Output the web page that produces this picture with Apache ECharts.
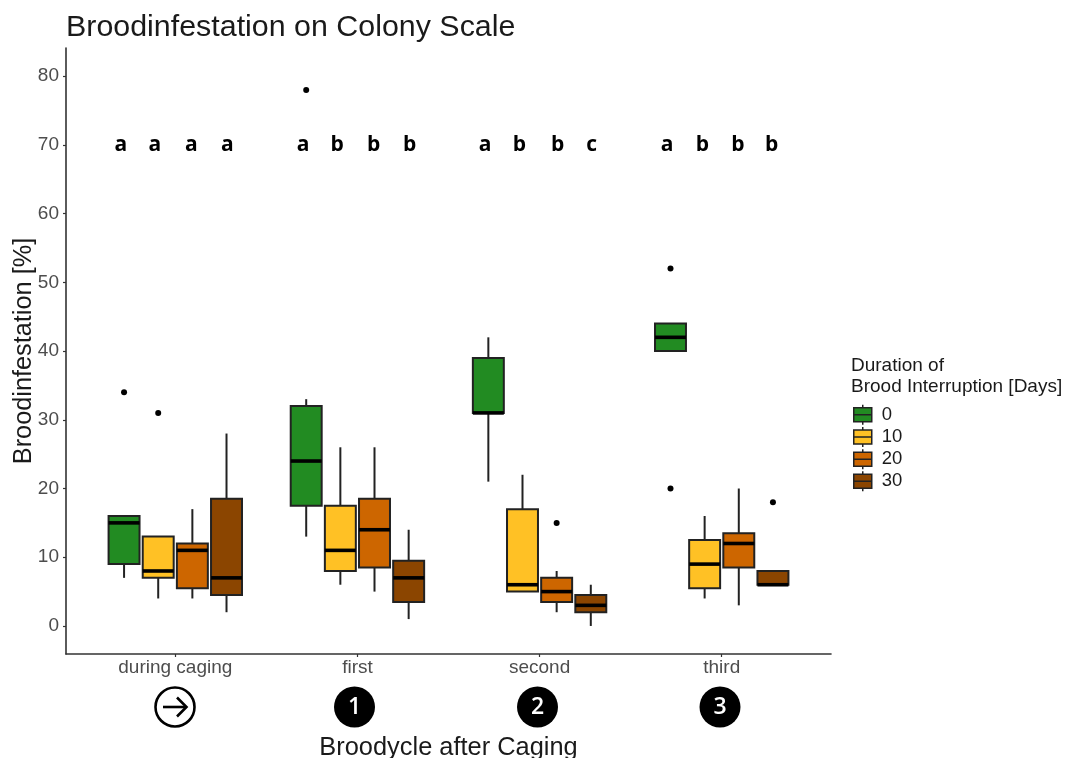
<!DOCTYPE html>
<html><head><meta charset="utf-8">
<style>html,body{margin:0;padding:0;background:#fff}#c{width:1065px;height:758px}</style>
<script src="https://cdn.jsdelivr.net/npm/echarts@6/dist/echarts.min.js"></script>
</head><body><div id="c"></div>
<script>
const categories = ['during caging', 'first', 'second', 'third'];
const durations = ['0', '10', '20', '30'];
const colors = ['#228B22', '#FFC125', '#CD6600', '#8B4500'];
const yTicks = [0, 10, 20, 30, 40, 50, 60, 70, 80];
const catPositions = [1, 2, 3, 4];
// [low whisker, Q1, median, Q3, high whisker] per category
const stats0  = [[7, 9, 15, 16, 16], [13, 17.5, 24, 32, 33], [21, 31, 31, 39, 42], [40, 40, 42, 44, 44]];
const stats10 = [[4, 7, 8, 13, 13], [6, 8, 11, 17.5, 26], [5, 5, 6, 17, 22], [4, 5.5, 9, 12.5, 16]];
const stats20 = [[4, 5.5, 11, 12, 17], [5, 8.5, 14, 18.5, 26], [2, 3.5, 5, 7, 8], [3, 8.5, 12, 13.5, 20]];
const stats30 = [[2, 4.5, 7, 18.5, 28], [1, 3.5, 7, 9.5, 14], [0, 2, 3, 4.5, 6], [6, 6, 6, 8, 8]];
const allStats = [stats0, stats10, stats20, stats30];
// [category index, group index, value]
const outliers = [[0, 0, 34], [0, 1, 31], [1, 0, 78], [2, 2, 15], [3, 0, 52], [3, 0, 20], [3, 3, 18]];
const letterValue = 70;
const letters = [['a', 'a', 'a', 'a'], ['a', 'b', 'b', 'b'], ['a', 'b', 'b', 'c'], ['a', 'b', 'b', 'b']];
const letterNudges = [[-0.017, -0.019, -0.005, 0.005], [-0.017, -0.017, -0.005, 0.005], [-0.018, -0.017, 0.005, 0.005], [-0.018, -0.013, -0.005, -0.007]];

const dodge = 0.1875;
const boxW = 0.17;
const offset = g => (g - 1.5) * dodge;

function renderBox(params, api) {
  const x = api.value(0), low = api.value(1), q1 = api.value(2), med = api.value(3), q3 = api.value(4), high = api.value(5);
  const cx = api.coord([x, 0])[0];
  const halfW = (api.size([boxW, 0])[0]) / 2;
  const Y = v => api.coord([x, v])[1];
  const lineStyle = { stroke: '#222', lineWidth: 2, fill: null };
  return { type: 'group', children: [
    { type: 'line', shape: { x1: cx, y1: Y(high), x2: cx, y2: Y(q3) }, style: lineStyle },
    { type: 'line', shape: { x1: cx, y1: Y(q1), x2: cx, y2: Y(low) }, style: lineStyle },
    { type: 'rect', shape: { x: cx - halfW, y: Y(q3), width: 2 * halfW, height: Y(q1) - Y(q3) },
      style: { fill: api.visual('color'), stroke: '#222', lineWidth: 2 } },
    { type: 'line', shape: { x1: cx - halfW, y1: Y(med), x2: cx + halfW, y2: Y(med) }, style: { stroke: '#000', lineWidth: 3.6 } }
  ]};
}

const boxSeries = durations.map((d, g) => ({
  name: d, type: 'custom', renderItem: renderBox, clip: false,
  itemStyle: { color: colors[g] },
  encode: { x: 0, y: [1, 2, 3, 4, 5] },
  data: allStats[g].map((s, c) => [catPositions[c] + offset(g), ...s])
}));

const outlierSeries = {
  name: 'outliers', type: 'scatter', symbol: 'circle', symbolSize: 6,
  itemStyle: { color: '#000', opacity: 1 },
  data: outliers.map(o => [catPositions[o[0]] + offset(o[1]), o[2]])
};

const letterData = [];
letters.forEach((row, c) => row.forEach((t, g) => letterData.push([catPositions[c] + offset(g) + letterNudges[c][g], letterValue, t])));
const letterSeries = {
  name: 'letters', type: 'custom', clip: false, data: letterData,
  encode: { x: 0, y: 1 },
  renderItem: (params, api) => {
    const p = api.coord([api.value(0), api.value(1)]);
    return { type: 'text', style: { x: p[0], y: p[1], text: letterData[params.dataIndex][2], fill: '#000',
      font: 'bold 21px "Open Sans", "Noto Sans", sans-serif', textAlign: 'center', textVerticalAlign: 'middle' } };
  }
};

const font = '"Liberation Sans", Arial, sans-serif';
function badge(cx, label) {
  return { type: 'group', x: cx, y: 707, children: [
    { type: 'circle', shape: { cx: 0, cy: 0, r: 20.5 }, style: { fill: '#000' } },
    { type: 'text', style: { x: 0, y: 0, text: label, fill: '#fff', font: '600 23px "Open Sans", sans-serif', textAlign: 'center', textVerticalAlign: 'middle' } }
  ]};
}
const arrowBadge = { type: 'group', x: 175, y: 707, children: [
  { type: 'circle', shape: { cx: 0, cy: 0, r: 19.5 }, style: { fill: '#fff', stroke: '#000', lineWidth: 2.6 } },
  { type: 'polyline', shape: { points: [[-12, 0], [11, 0]] }, style: { stroke: '#000', lineWidth: 2.6, fill: null } },
  { type: 'polyline', shape: { points: [[2, -9.5], [11.5, 0], [2, 9.5]] }, style: { stroke: '#000', lineWidth: 2.6, fill: null } }
]};

const chart = echarts.init(document.getElementById('c'), null, { renderer: 'canvas' });
chart.setOption({
  animation: false,
  backgroundColor: '#fff',
  title: { text: 'Broodinfestation on Colony Scale', left: 66, top: 13, padding: 0,
    textStyle: { fontFamily: font, fontSize: 30.4, fontWeight: 'normal', color: '#1a1a1a' } },
  grid: { left: 66, right: 234, top: 48, bottom: 104, outerBoundsMode: 'none' },
  xAxis: {
    type: 'value', min: 0.4, max: 4.6, splitLine: { show: false },
    name: 'Broodycle after Caging', nameLocation: 'middle', nameGap: 81,
    nameTextStyle: { fontFamily: font, fontSize: 25.4, color: '#1a1a1a' },
    axisLine: { show: true, onZero: false, lineStyle: { color: '#333', width: 1.6 } },
    axisTick: { show: true, length: 3, customValues: catPositions, lineStyle: { color: '#333', width: 1.2 } },
    axisLabel: { show: true, customValues: catPositions, margin: 4, fontFamily: font, fontSize: 19, color: '#4d4d4d',
      formatter: v => categories[catPositions.indexOf(v)] || '' }
  },
  yAxis: {
    type: 'value', min: -4.08, max: 84.1, splitLine: { show: false },
    name: 'Broodinfestation [%]', nameLocation: 'middle', nameGap: 29, nameMoveOverlap: false,
    nameTextStyle: { fontFamily: font, fontSize: 25.3, color: '#1a1a1a' },
    axisLine: { show: true, onZero: false, lineStyle: { color: '#333', width: 1.6 } },
    axisTick: { show: true, length: 3, customValues: yTicks, lineStyle: { color: '#333', width: 1.2 } },
    axisLabel: { show: true, customValues: yTicks, margin: 7, fontFamily: font, fontSize: 19, color: '#4d4d4d' }
  },
  legend: {
    data: durations, orient: 'vertical', left: 853, top: 404, padding: 0, itemGap: 0.7,
    itemWidth: 18, itemHeight: 20, selectedMode: false,
    icon: 'path://M9 0V3M0 3H18V17H0ZM0 10H18M9 17V20',
    itemStyle: { borderColor: '#222', borderWidth: 1.5 },
    textStyle: { fontFamily: font, fontSize: 18.5, color: '#1a1a1a', padding: [0, 0, 0, 5] }
  },
  graphic: [
    { type: 'text', left: 851, top: 355, style: { text: 'Duration of\nBrood Interruption [Days]', font: '19px ' + font, fill: '#1a1a1a', lineHeight: 21 } },
    arrowBadge, badge(354.5, '1'), badge(537.5, '2'), badge(720, '3')
  ],
  series: [...boxSeries, outlierSeries, letterSeries]
});
</script></body></html>
